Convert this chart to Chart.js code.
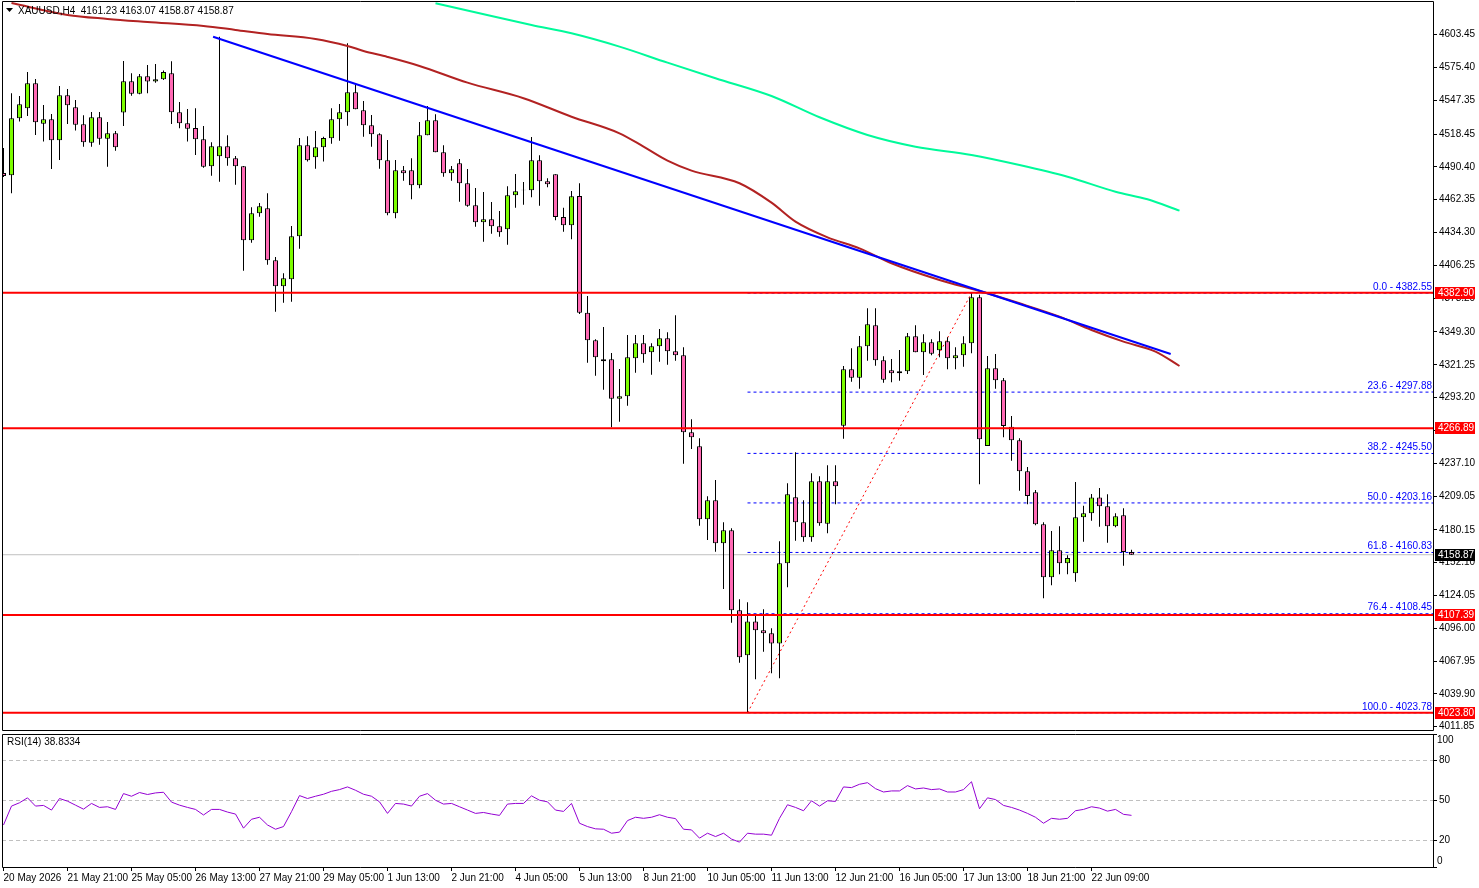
<!DOCTYPE html>
<html>
<head>
<meta charset="utf-8">
<title>XAUUSD H4</title>
<script src="https://cdn.jsdelivr.net/npm/chart.js@4.4.1/dist/chart.umd.min.js"></script>
<style>
  html, body { margin: 0; padding: 0; background: #fff; }
  body { width: 1479px; height: 888px; position: relative; overflow: hidden; }
  #mainChart { position: absolute; left: 0; top: 0; }
  #rsiChart { position: absolute; left: 0; top: 733px; }
</style>
</head>
<body>
<canvas id="mainChart" width="1479" height="733"></canvas>
<canvas id="rsiChart" width="1479" height="155"></canvas>
<script>
// XAUUSD H4 свічки, індекс 0 = 20 May 2026
const opens = [
  4485.2, 4483.2, 4532.0, 4540.5, 4561.9, 4527.3, 4531.1, 4513.2, 4551.6, 4541.4,
  4526.8, 4511.1, 4532.8, 4514.5, 4519.1, 4536.8, 4563.6, 4553.0, 4567.9, 4563.3,
  4565.3, 4570.4, 4537.1, 4527.7, 4523.7, 4514.0, 4490.9, 4499.5, 4508.0, 4497.8,
  4490.9, 4427.7, 4450.7, 4455.0, 4410.6, 4388.3, 4394.3, 4431.1, 4508.9, 4498.6,
  4507.2, 4514.9, 4531.1, 4537.1, 4554.2, 4538.8, 4526.0, 4518.3, 4496.1, 4450.7,
  4487.5, 4487.5, 4474.7, 4517.4, 4530.3, 4502.9, 4484.9, 4493.5, 4476.4, 4457.6,
  4443.1, 4445.6, 4439.6, 4437.1, 4466.1, 4470.4, 4470.4, 4496.1, 4478.1, 4484.1,
  4447.6, 4440.5, 4465.5, 4365.8, 4342.2, 4324.2, 4325.9, 4292.2, 4294.3, 4326.8,
  4339.6, 4331.9, 4337.0, 4343.9, 4332.8, 4329.4, 4263.5, 4251.6, 4189.1, 4205.4,
  4168.6, 4179.7, 4111.4, 4072.9, 4101.9, 4094.3, 4091.7, 4083.1, 4151.5, 4208.0,
  4186.6, 4173.8, 4221.6, 4185.4, 4221.6, 4269.2, 4317.4, 4310.2, 4337.0, 4355.0,
  4325.1, 4316.5, 4314.0, 4315.7, 4345.6, 4331.9, 4340.5, 4333.6, 4341.3, 4326.8,
  4329.4, 4339.6, 4378.9, 4251.8, 4318.2, 4308.0, 4268.3, 4256.7, 4230.2, 4212.2,
  4184.9, 4139.6, 4162.6, 4151.5, 4143.0, 4190.9, 4194.3, 4207.9, 4200.3, 4183.2,
  4192.6, 4161.23
];
const highs = [
  4506.6, 4553.3, 4551.0, 4571.5, 4565.6, 4543.3, 4535.6, 4559.6, 4557.0, 4547.6,
  4534.5, 4537.4, 4537.4, 4528.8, 4521.1, 4581.0, 4570.4, 4569.8, 4577.5, 4578.4,
  4572.7, 4580.7, 4545.9, 4539.9, 4540.5, 4525.4, 4511.4, 4601.7, 4517.4, 4499.7,
  4491.2, 4455.9, 4459.6, 4467.8, 4413.4, 4399.5, 4439.9, 4515.1, 4516.6, 4521.1,
  4516.2, 4540.5, 4544.2, 4596.1, 4560.4, 4546.8, 4534.8, 4519.1, 4513.4, 4496.3,
  4491.2, 4497.8, 4528.8, 4542.5, 4535.4, 4508.9, 4491.2, 4497.2, 4488.6, 4472.4,
  4469.0, 4460.4, 4452.7, 4473.8, 4484.3, 4477.5, 4516.0, 4500.3, 4480.7, 4484.1,
  4455.5, 4469.8, 4476.4, 4380.0, 4343.0, 4353.5, 4331.3, 4317.6, 4346.7, 4346.7,
  4346.7, 4339.6, 4351.8, 4349.0, 4363.6, 4336.2, 4274.6, 4258.4, 4208.8, 4222.7,
  4186.6, 4181.5, 4120.8, 4118.2, 4107.1, 4112.2, 4096.0, 4170.3, 4219.9, 4246.4,
  4205.4, 4228.5, 4225.9, 4235.3, 4235.3, 4320.2, 4335.3, 4345.9, 4369.5, 4369.5,
  4328.5, 4326.2, 4333.9, 4348.4, 4355.0, 4347.3, 4343.0, 4349.9, 4344.7, 4336.2,
  4345.6, 4382.55, 4381.0, 4328.8, 4330.5, 4309.9, 4277.5, 4258.4, 4233.9, 4214.2,
  4186.6, 4179.1, 4183.2, 4158.4, 4221.0, 4200.8, 4210.8, 4215.9, 4210.5, 4194.3,
  4198.5, 4163.07
];
const lows = [
  4481.8, 4467.8, 4529.1, 4533.9, 4517.7, 4512.0, 4488.6, 4496.3, 4527.1, 4521.4,
  4507.7, 4507.7, 4509.4, 4490.6, 4504.3, 4525.4, 4551.3, 4552.5, 4553.3, 4562.4,
  4564.7, 4527.1, 4523.4, 4512.0, 4500.6, 4489.7, 4482.9, 4477.8, 4491.4, 4475.2,
  4401.7, 4425.6, 4447.8, 4406.8, 4366.6, 4374.3, 4375.2, 4420.5, 4494.9, 4488.9,
  4494.9, 4510.2, 4512.8, 4525.6, 4539.7, 4516.2, 4507.7, 4488.9, 4449.0, 4446.5,
  4478.6, 4462.7, 4472.1, 4517.4, 4502.9, 4482.0, 4478.6, 4460.7, 4456.4, 4439.3,
  4426.5, 4433.3, 4430.7, 4423.9, 4455.5, 4458.1, 4464.4, 4457.2, 4473.0, 4444.8,
  4435.0, 4428.5, 4364.7, 4323.0, 4311.9, 4299.9, 4267.8, 4272.6, 4286.3, 4314.5,
  4323.0, 4312.8, 4323.9, 4321.3, 4324.7, 4236.7, 4249.2, 4183.7, 4171.5, 4161.4,
  4129.6, 4100.8, 4066.5, 4023.78, 4052.4, 4076.0, 4057.5, 4053.2, 4131.0, 4170.9,
  4170.0, 4170.0, 4183.7, 4177.2, 4202.0, 4258.1, 4306.8, 4300.8, 4324.7, 4320.5,
  4305.9, 4306.3, 4307.6, 4313.4, 4331.9, 4312.5, 4329.4, 4327.6, 4317.4, 4317.4,
  4319.6, 4331.1, 4219.1, 4251.8, 4300.8, 4259.3, 4239.2, 4213.6, 4202.0, 4184.0,
  4121.6, 4132.7, 4142.1, 4142.1, 4135.8, 4170.0, 4188.0, 4182.8, 4169.1, 4182.3,
  4149.5, 4158.87
];
const closes = [
  4482.6, 4532.0, 4543.9, 4561.9, 4528.5, 4531.1, 4513.2, 4551.6, 4543.1, 4526.5,
  4511.4, 4532.8, 4514.5, 4519.1, 4507.2, 4563.6, 4553.0, 4567.9, 4563.3, 4565.3,
  4571.5, 4537.1, 4527.7, 4523.1, 4514.0, 4490.6, 4508.0, 4508.0, 4497.8, 4490.9,
  4427.7, 4450.7, 4456.7, 4410.6, 4388.3, 4395.2, 4431.1, 4508.9, 4496.1, 4507.2,
  4515.1, 4531.1, 4537.1, 4554.2, 4539.7, 4526.0, 4518.3, 4496.1, 4450.7, 4487.5,
  4484.9, 4474.7, 4517.4, 4530.3, 4502.9, 4484.9, 4488.4, 4476.4, 4457.2, 4443.1,
  4445.6, 4439.6, 4434.5, 4466.1, 4469.6, 4470.9, 4496.1, 4478.1, 4475.5, 4447.6,
  4440.5, 4465.3, 4365.8, 4342.2, 4327.6, 4325.9, 4292.2, 4294.3, 4327.6, 4339.6,
  4330.2, 4337.0, 4343.9, 4332.8, 4329.4, 4263.5, 4259.2, 4189.1, 4205.4, 4168.6,
  4179.7, 4111.4, 4071.2, 4101.9, 4094.3, 4091.7, 4083.1, 4151.5, 4210.5, 4186.6,
  4173.8, 4221.6, 4185.7, 4221.6, 4217.4, 4317.4, 4310.2, 4337.0, 4355.9, 4325.1,
  4308.5, 4314.0, 4315.7, 4345.6, 4331.9, 4340.5, 4330.7, 4341.3, 4326.8, 4329.4,
  4339.6, 4378.9, 4257.5, 4318.2, 4308.0, 4268.9, 4256.7, 4230.2, 4209.1, 4184.9,
  4139.6, 4162.6, 4151.5, 4156.1, 4190.9, 4194.3, 4207.9, 4200.3, 4183.2, 4191.7,
  4161.2, 4158.87
];

// RSI(14)
const rsiValues = [
  31.6, 45.8, 48.3, 52.0, 45.8, 46.3, 42.8, 51.5, 49.5, 46.5,
  43.5, 47.8, 44.8, 45.3, 43.3, 55.2, 53.2, 56.0, 54.5, 55.7,
  56.2, 48.8, 46.5, 44.8, 43.3, 39.1, 43.3, 43.3, 41.3, 39.8,
  29.2, 35.9, 37.4, 31.6, 28.4, 30.4, 41.6, 53.7, 51.5, 53.2,
  54.7, 56.9, 58.2, 60.2, 57.7, 54.7, 53.2, 49.0, 40.3, 47.8,
  47.3, 45.8, 53.2, 55.2, 50.2, 47.3, 47.8, 45.3, 42.8, 40.3,
  41.0, 39.8, 38.8, 47.3, 47.8, 47.8, 53.5, 50.2, 49.0, 42.8,
  41.8, 47.8, 32.9, 30.4, 28.7, 28.4, 25.4, 26.2, 34.9, 37.4,
  36.6, 37.4, 39.3, 37.4, 36.4, 28.4, 27.9, 21.7, 25.4, 22.9,
  25.4, 21.0, 18.7, 25.4, 24.7, 24.7, 23.9, 36.6, 46.8, 44.8,
  42.3, 49.8, 45.8, 49.8, 49.3, 60.2, 59.7, 62.2, 63.4, 58.9,
  56.4, 57.2, 57.2, 61.2, 58.7, 59.4, 58.2, 58.7, 56.4, 56.4,
  58.2, 64.1, 43.8, 52.0, 50.7, 46.3, 44.8, 42.8, 40.3, 37.4,
  32.9, 36.6, 35.9, 36.6, 42.3, 43.3, 45.3, 44.3, 42.0, 43.3,
  39.6, 38.8334
];

// підписи часу, кожні 8 барів
const tickIdx = [0, 8, 16, 24, 32, 40, 48, 56, 64, 72, 80, 88, 96, 104, 112, 120, 128, 136];
const tickLabels = ['20 May 2026', '21 May 21:00', '25 May 05:00', '26 May 13:00', '27 May 21:00',
  '29 May 05:00', '1 Jun 13:00', '2 Jun 21:00', '4 Jun 05:00', '5 Jun 13:00', '8 Jun 21:00',
  '10 Jun 05:00', '11 Jun 13:00', '12 Jun 21:00', '16 Jun 05:00', '17 Jun 13:00', '18 Jun 21:00',
  '22 Jun 09:00'];

const priceTicks = [4603.45, 4575.40, 4547.35, 4518.45, 4490.40, 4462.35, 4434.30, 4406.25,
  4378.20, 4349.30, 4321.25, 4293.20, 4265.15, 4237.10, 4209.05, 4180.15, 4152.10, 4124.05,
  4096.00, 4067.95, 4039.90, 4011.85];
const rsiTicks = [0, 20, 50, 80, 100];

// червоні рівні
const levelPrices = [4382.90, 4266.89, 4107.39, 4023.80];
const lastPrice = 4158.87;

// Фібоначчі
const fibRatios = ['0.0', '23.6', '38.2', '50.0', '61.8', '76.4', '100.0'];
const fibPrices = [4382.55, 4297.88, 4245.50, 4203.16, 4160.83, 4108.45, 4023.78];
const swingLowIdx = 93;
const swingHighIdx = 121;

// ковзні середні (зсунуті вправо)
const maRedIdx = [1, 8, 13, 18, 25, 29, 33, 39, 43, 45, 48, 52, 58, 65, 71, 77, 80, 83, 86, 92,
  96, 99, 103, 107, 111, 117, 122, 127, 132, 136, 140, 144, 147];
const maRedValues = [4630.5, 4620.3, 4616.9, 4614.3, 4610.9, 4607.5, 4604.0, 4599.8, 4593.8,
  4589.5, 4584.4, 4576.7, 4562.4, 4549.1, 4533.3, 4519.1, 4507.7, 4495.7, 4487.2, 4476.4,
  4459.8, 4443.6, 4430.2, 4420.8, 4408.0, 4393.7, 4384.3, 4373.8, 4362.4, 4351.0, 4341.0,
  4332.5, 4320.2];
const maGreenIdx = [54, 61, 66, 71, 77, 83, 89, 96, 102, 108, 114, 121, 127, 133, 139, 143, 147];
const maGreenValues = [4630.3, 4619.4, 4611.7, 4604.6, 4593.2, 4579.5, 4566.2, 4551.0, 4532.8,
  4517.7, 4507.7, 4500.6, 4492.0, 4482.0, 4469.2, 4462.7, 4453.0];

// лінія тренду
const trendIdx = [26.2, 145.9];
const trendValues = [4601.7, 4330.5];

const xMin = -0.1875;
const xMax = 178.6875;
const FONT = '"Liberation Sans", Arial, sans-serif';

Chart.defaults.font.family = FONT;
Chart.defaults.font.size = 10;
Chart.defaults.color = '#000';

function hLine(price, fromX, color, width, dash, order) {
    return {
        type: 'line',
        data: [{ x: fromX, y: price }, { x: xMax, y: price }],
        borderColor: color,
        borderWidth: width,
        borderDash: dash,
        pointRadius: 0,
        fill: false,
        order: order
    };
}

function lineFrom(idx, vals, color, width, order) {
    return {
        type: 'line',
        data: idx.map((x, k) => ({ x: x, y: vals[k] })),
        borderColor: color,
        borderWidth: width,
        pointRadius: 0,
        fill: false,
        cubicInterpolationMode: 'monotone',
        order: order
    };
}

const bull = '#7cfc00';
const bear = '#ff69b4';

const bodies = {
    type: 'bar',
    data: opens.map((o, i) => ({ x: i, y: [o, closes[i]] })),
    backgroundColor: opens.map((o, i) => closes[i] >= o ? bull : bear),
    borderColor: '#000',
    borderWidth: 1,
    borderSkipped: false,
    inflateAmount: 0,
    barThickness: 5,
    grouped: false,
    order: 2
};
const wicks = {
    type: 'bar',
    data: lows.map((l, i) => ({ x: i, y: [l, highs[i]] })),
    backgroundColor: '#000',
    borderWidth: 0,
    inflateAmount: 0,
    barThickness: 1,
    grouped: false,
    order: 3
};

const datasets = [];
levelPrices.forEach(p => datasets.push(hLine(p, xMin, '#ff0000', 2, [], 0)));
datasets.push(lineFrom(trendIdx, trendValues, '#0000ff', 2, 1));
datasets.push(lineFrom(maRedIdx, maRedValues, '#b22222', 2, 1));
datasets.push(lineFrom(maGreenIdx, maGreenValues, '#00fa9a', 2, 1));
datasets.push(bodies);
datasets.push(wicks);
fibPrices.forEach(p => datasets.push(hLine(p, swingLowIdx, '#0000ff', 1, [3, 3], 4)));
datasets.push({
    type: 'line',
    data: [{ x: swingLowIdx, y: fibPrices[fibPrices.length - 1] }, { x: swingHighIdx, y: fibPrices[0] }],
    borderColor: '#ff0000',
    borderWidth: 1,
    borderDash: [2, 3],
    pointRadius: 0,
    fill: false,
    order: 4
});
datasets.push(hLine(lastPrice, xMin, '#c0c0c0', 1, [], 5));

// рамка, підписи Фібоначчі, мітки цін, заголовок
const mainDecor = {
    id: 'mainDecor',
    afterDraw(chart) {
        const { ctx, chartArea: a } = chart;
        const y = chart.scales.y;
        ctx.save();
        ctx.strokeStyle = '#000';
        ctx.lineWidth = 1;
        ctx.beginPath();
        ctx.moveTo(a.left + 0.5, a.top + 0.5);
        ctx.lineTo(a.right + 0.5, a.top + 0.5);
        ctx.lineTo(a.right + 0.5, a.bottom - 0.5);
        ctx.lineTo(a.left + 0.5, a.bottom - 0.5);
        ctx.closePath();
        ctx.stroke();

        ctx.font = '10px ' + FONT;
        ctx.fillStyle = '#0000ff';
        ctx.textAlign = 'right';
        ctx.textBaseline = 'bottom';
        fibPrices.forEach((p, k) => {
            ctx.fillText(fibRatios[k] + ' - ' + p.toFixed(2), a.right - 1, y.getPixelForValue(p) - 1);
        });

        const marks = levelPrices.map(p => [p, '#ff0000']).concat([[lastPrice, '#000000']]);
        ctx.textAlign = 'left';
        ctx.textBaseline = 'middle';
        marks.forEach(([p, c]) => {
            const py = Math.round(y.getPixelForValue(p));
            ctx.fillStyle = c;
            ctx.fillRect(a.right + 2, py - 6, 40, 12);
            ctx.fillStyle = '#fff';
            ctx.fillText(p.toFixed(2), a.right + 5, py + 0.5);
        });

        // заголовок
        const n = opens.length - 1;
        ctx.fillStyle = '#000';
        ctx.beginPath();
        ctx.moveTo(6, 8); ctx.lineTo(13, 8); ctx.lineTo(9.5, 12);
        ctx.closePath();
        ctx.fill();
        ctx.font = '10px ' + FONT;
        ctx.fillText('XAUUSD,H4  ' + [opens[n], highs[n], lows[n], closes[n]].map(v => v.toFixed(2)).join(' '), 18, 11);
        ctx.restore();
    }
};

new Chart(document.getElementById('mainChart'), {
    type: 'bar',
    data: { datasets: datasets },
    options: {
        responsive: false,
        devicePixelRatio: 1,
        animation: false,
        events: [],
        layout: { padding: { left: 2, top: 1, right: 0, bottom: 2 } },
        plugins: { legend: { display: false }, tooltip: { enabled: false } },
        scales: {
            x: { type: 'linear', display: false, min: xMin, max: xMax, offset: false },
            y: {
                type: 'linear',
                position: 'right',
                min: 4008.2,
                max: 4632.2,
                border: { display: false },
                grid: { drawOnChartArea: false, drawTicks: true, tickLength: 4, tickColor: '#000' },
                ticks: { padding: 2, color: '#000', callback: v => Number(v).toFixed(2) },
                afterBuildTicks: s => { s.ticks = priceTicks.map(v => ({ value: v })); },
                afterFit: s => { s.width = 46; s.paddingTop = 0; s.paddingBottom = 0; }
            }
        }
    },
    plugins: [mainDecor]
});

// панель RSI
const rsiDecor = {
    id: 'rsiDecor',
    afterDraw(chart) {
        const { ctx, chartArea: a } = chart;
        const y = chart.scales.y;
        ctx.save();
        ctx.strokeStyle = '#000';
        ctx.lineWidth = 1;
        ctx.beginPath();
        ctx.moveTo(a.left + 0.5, a.top + 0.5);
        ctx.lineTo(a.right + 0.5, a.top + 0.5);
        ctx.lineTo(a.right + 0.5, a.bottom + 0.5);
        ctx.lineTo(a.left + 0.5, a.bottom + 0.5);
        ctx.closePath();
        ctx.stroke();

        ctx.font = '10px ' + FONT;
        ctx.fillStyle = '#000';
        ctx.textAlign = 'left';
        ctx.textBaseline = 'middle';
        const top = rsiTicks[rsiTicks.length - 1];
        const bottom = rsiTicks[0];
        ctx.fillText(String(top), a.right + 4, y.getPixelForValue(top) + 6);
        ctx.fillText(String(bottom), a.right + 4, y.getPixelForValue(bottom) - 6);
        ctx.fillText('RSI(14) ' + rsiValues[rsiValues.length - 1].toFixed(4), 7, 9);
        ctx.restore();
    }
};

new Chart(document.getElementById('rsiChart'), {
    type: 'line',
    data: {
        datasets: [{
            data: rsiValues.map((v, i) => ({ x: i, y: v })),
            borderColor: '#9400d3',
            borderWidth: 1,
            pointRadius: 0,
            fill: false,
            tension: 0
        }]
    },
    options: {
        responsive: false,
        devicePixelRatio: 1,
        animation: false,
        events: [],
        layout: { padding: { left: 2, top: 1, right: 0, bottom: 0 } },
        plugins: { legend: { display: false }, tooltip: { enabled: false } },
        scales: {
            x: {
                type: 'linear',
                position: 'bottom',
                min: xMin,
                max: xMax,
                offset: false,
                border: { display: false },
                grid: { drawOnChartArea: false, drawTicks: true, tickLength: 4, tickColor: '#000' },
                ticks: {
                    align: 'start',
                    maxRotation: 0,
                    autoSkip: false,
                    padding: 1,
                    color: '#000',
                    callback: (v, k) => tickLabels[k]
                },
                afterBuildTicks: s => { s.ticks = tickIdx.map(v => ({ value: v })); },
                afterFit: s => { s.height = 21; s.paddingLeft = 0; s.paddingRight = 0; }
            },
            y: {
                type: 'linear',
                position: 'right',
                min: 0,
                max: 100,
                border: { display: false, dash: [4, 3] },
                grid: {
                    drawOnChartArea: true,
                    drawTicks: true,
                    tickLength: 4,
                    tickColor: '#000',
                    color: c => (c.tick && c.tick.value > 0 && c.tick.value < 100) ? '#c0c0c0' : 'rgba(0,0,0,0)'
                },
                ticks: { padding: 2, color: '#000', callback: v => (v === 0 || v === 100) ? '' : String(v) },
                afterBuildTicks: s => { s.ticks = rsiTicks.map(v => ({ value: v })); },
                afterFit: s => { s.width = 46; s.paddingTop = 0; s.paddingBottom = 0; }
            }
        }
    },
    plugins: [rsiDecor]
});
</script>
</body>
</html>
